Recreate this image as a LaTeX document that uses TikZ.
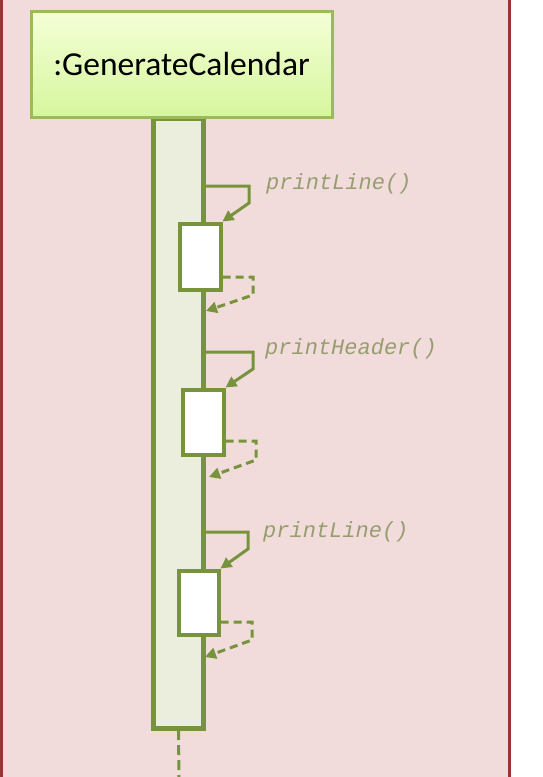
\documentclass[tikz,border=0pt]{standalone}
\usepackage{fontspec}
\setmainfont{Carlito}
\setmonofont{Liberation Mono}
\usetikzlibrary{arrows.meta,shadows}
\definecolor{bg}{RGB}{242, 220, 219}
\definecolor{frame}{RGB}{149, 55, 53}
\definecolor{olive}{RGB}{119, 147, 60}
\definecolor{headline}{RGB}{155, 187, 89}
\definecolor{headtop}{RGB}{245, 255, 214}
\definecolor{headbot}{RGB}{214, 246, 158}
\definecolor{barfill}{RGB}{235, 238, 221}
\definecolor{msg}{RGB}{150, 158, 112}

\begin{document}
\begin{tikzpicture}[
  head/.style={rectangle, draw=headline, line width=3pt, top color=headtop, bottom color=headbot,
    drop shadow={opacity=0.15, shadow xshift=2pt, shadow yshift=-2pt}, inner sep=0pt,
    font=\fontsize{33.5}{36}\selectfont},
  act/.style={rectangle, draw=olive, line width=4pt, inner sep=0pt},
  call/.style={draw=olive, line width=3pt, -{Triangle[length=11pt, width=11pt]}},
  ret/.style={call, dash pattern=on 8pt off 5pt},
  msglabel/.style={anchor=west, text=msg, font=\fontsize{22}{24}\selectfont\ttfamily\itshape, inner sep=0pt}
]
\useasboundingbox (0pt, 0pt) rectangle (542pt, -777pt);
\fill [bg] (0pt, 0pt) rectangle (510pt, -777pt);
\draw [frame, line width=2.5pt] (1.5pt, 0pt) -- (1.5pt, -777pt);
\draw [frame, line width=2.5pt] (509.5pt, 0pt) -- (509.5pt, -777pt);

\node (bar) [act, line width=5pt, fill=barfill, minimum width=50pt, minimum height=610pt] at (178.5pt, -423pt) {};
\node (cal) [head, minimum width=301pt, minimum height=106pt] at (181.5pt, -64pt) {:GenerateCalendar};
\coordinate (tail) at (179pt, -777pt);
\draw [olive, line width=3pt, dash pattern=on 10pt off 5pt] (bar.south |- 0pt, -730pt) -- (tail);

\node (box1) [act, fill=white, minimum width=41pt, minimum height=66pt] at (200pt, -256.5pt) {};
\node (box2) [act, fill=white, minimum width=41pt, minimum height=65pt] at (203pt, -422pt) {};
\node (box3) [act, fill=white, minimum width=40pt, minimum height=64pt] at (198.5pt, -602.5pt) {};

\coordinate (c1) at (249pt, -186pt);
\coordinate (c1b) at (249pt, -203pt);
\coordinate (r1) at (253pt, -277pt);
\coordinate (r1b) at (253pt, -295pt);
\coordinate (r1e) at (206pt, -311pt);
\coordinate (c2) at (253pt, -352pt);
\coordinate (c2b) at (253pt, -369pt);
\coordinate (r2) at (256pt, -441pt);
\coordinate (r2b) at (256pt, -460pt);
\coordinate (r2e) at (209pt, -477pt);
\coordinate (c3) at (248pt, -532pt);
\coordinate (c3b) at (248pt, -549pt);
\coordinate (r3) at (252pt, -622pt);
\coordinate (r3b) at (252pt, -640pt);
\coordinate (r3e) at (205pt, -657pt);

\draw [call] (bar.east |- c1) -- (c1) -- (c1b) -- (box1.north east);
\draw [ret] (box1.east |- r1) -- (r1) -- (r1b) -- (r1e);
\draw [call] (bar.east |- c2) -- (c2) -- (c2b) -- (box2.north east);
\draw [ret] (box2.east |- r2) -- (r2) -- (r2b) -- (r2e);
\draw [call] (bar.east |- c3) -- (c3) -- (c3b) -- (box3.north east);
\draw [ret] (box3.east |- r3) -- (r3) -- (r3b) -- (r3e);

\node (m1) [msglabel] at (266pt, -184pt) {printLine()};
\node (m2) [msglabel] at (265pt, -349pt) {printHeader()};
\node (m3) [msglabel] at (263pt, -532pt) {printLine()};
\end{tikzpicture}
\end{document}
